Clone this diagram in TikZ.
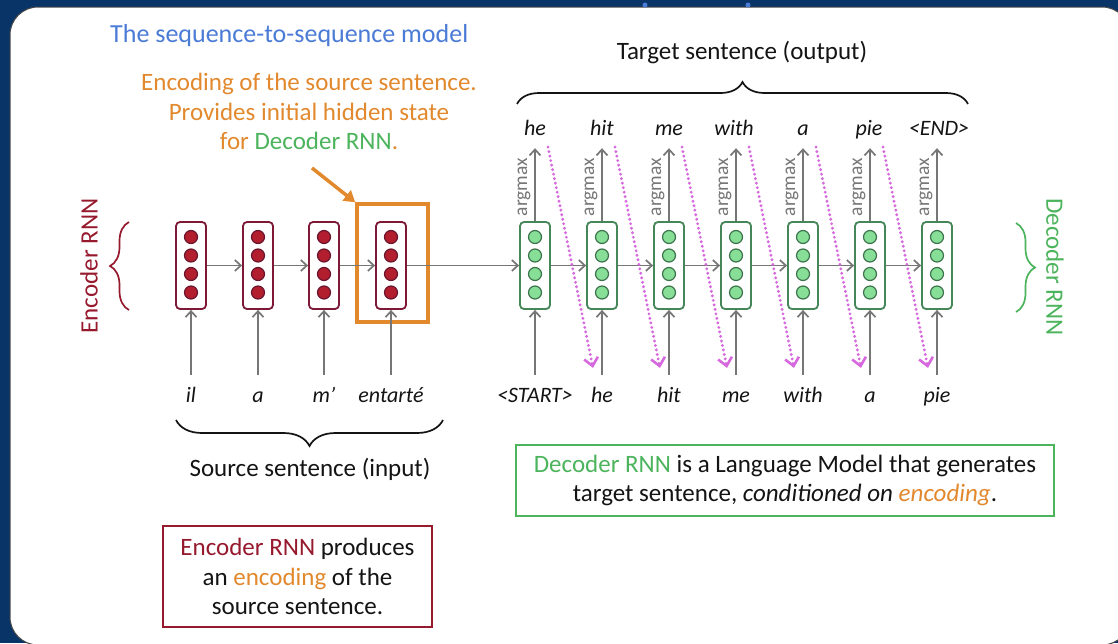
\documentclass[tikz,border=0pt]{standalone}
\usepackage{fontspec}
\setmainfont{Carlito}
\usetikzlibrary{arrows.meta,decorations.pathreplacing,calc}

\definecolor{navy}{RGB}{8,52,104}
\definecolor{titleblue}{RGB}{74,123,214}
\definecolor{encorange}{RGB}{226,137,46}
\definecolor{decgreen}{RGB}{76,180,92}
\definecolor{encred}{RGB}{150,25,45}
\definecolor{cellred}{RGB}{125,25,55}
\definecolor{dotred}{RGB}{178,30,45}
\definecolor{cellgreen}{RGB}{70,135,90}
\definecolor{dotgreen}{RGB}{135,222,150}
\definecolor{flowgray}{RGB}{118,118,118}
\definecolor{feedpink}{RGB}{215,105,222}
\definecolor{ink}{RGB}{20,20,20}

\begin{document}
\begin{tikzpicture}[x=1pt,y=-1pt,
  encell/.style={draw=cellred, line width=1.8pt, rounded corners=4pt, fill=white,
    minimum width=30pt, minimum height=87pt, inner sep=0pt},
  decell/.style={encell, draw=cellgreen},
  endot/.style={circle, draw=cellred!85!black, fill=dotred, line width=1.2pt,
    minimum size=13pt, inner sep=0pt},
  dedot/.style={endot, draw=cellgreen!85!black, fill=dotgreen},
  flow/.style={draw=flowgray, line width=1.8pt,
    -{Straight Barb[length=6pt,width=11pt,line width=1.7pt]}},
  feed/.style={draw=feedpink, line width=3.2pt, line cap=round,
    dash pattern=on 0pt off 4.6pt,
    -{Straight Barb[length=8pt,width=14pt,line width=2.6pt]}},
  word/.style={font=\fontsize{22}{26}\selectfont\itshape, text=ink, inner sep=0pt,
    text height=15pt, text depth=5pt, anchor=base},
  label/.style={font=\fontsize{25}{29.5}\selectfont, text=ink, inner sep=0pt},
  argtxt/.style={rotate=90, font=\fontsize{19.5}{22}\selectfont, text=flowgray, inner sep=0pt},
  bracket/.style={line width=1.7pt, decorate},
]
\useasboundingbox (0,0) rectangle (1118,643);

% slide frame
\fill[navy] (0,0) rectangle (1118,643);
\filldraw[fill=white, draw=gray!55!black, line width=1pt, rounded corners=28pt]
  (10,7) rectangle (1130,645);
\fill[titleblue] (645,5) circle (2.5);
\fill[titleblue] (748,5) circle (2.5);

% title
\node[anchor=base west, text=titleblue, font=\fontsize{26}{30}\selectfont, inner sep=0pt]
  (title) at (110,42) {The sequence-to-sequence model};

% encoding note
\node[label, text=encorange, anchor=base] (note1) at (309,90) {Encoding of the source sentence.};
\node[label, text=encorange, anchor=base] (note2) at (309,120) {Provides initial hidden state};
\node[label, text=encorange, anchor=base] (note3) at (309,149) {for \textcolor{decgreen}{Decoder RNN}.};
\coordinate (notearrow) at (312,168);

% encoder cells
\foreach \x [count=\i] in {191,258,324,391} {
  \node[encell] (e\i) at (\x,265.5) {};
  \foreach \y [count=\k] in {237,255.5,274,292.5}
    \node[endot] (e\i d\k) at (\x,\y) {};
}
% decoder cells
\foreach \x [count=\i] in {535,602,669,736,803,870,937} {
  \node[decell] (d\i) at (\x,265.5) {};
  \foreach \y [count=\k] in {237,255.5,274,292.5}
    \node[dedot] (d\i d\k) at (\x,\y) {};
}

% highlighted final encoder state
\node[draw=encorange, line width=3.5pt, minimum width=71pt, minimum height=118pt, inner sep=0pt]
  (encbox) at (392.5,263) {};
\draw[draw=encorange, line width=3.5pt, -{Triangle[length=11pt,width=13pt]}]
  (notearrow) -- (encbox.north west);

% recurrent connections
\foreach \i/\j in {1/2,2/3,3/4} \draw[flow] (e\i.east) -- (e\j.west);
\draw[flow] (e4.east) -- (d1.west);
\foreach \i/\j in {1/2,2/3,3/4,4/5,5/6,6/7} \draw[flow] (d\i.east) -- (d\j.west);

% source words
\foreach \w/\x [count=\i] in {il/191,a/258,m’/324,entarté/391} {
  \node[word] (s\i) at (\x,402) {\w};
  \draw[flow, shorten <=12pt] (s\i.north) -- (e\i.south);
}
% decoder input words
\foreach \w/\x [count=\i] in {<START>/535,he/602,hit/669,me/736,with/803,a/870,pie/937} {
  \node[word] (i\i) at (\x,402) {\w};
  \draw[flow, shorten <=12pt] (i\i.north) -- (d\i.south);
}
% decoder output words
\foreach \w/\x [count=\i] in {he/535,hit/602,me/669,with/734,a/803,pie/869,<END>/939} {
  \node[word] (o\i) at (\x,135) {\w};
  \node[argtxt] (am\i) at ($(d\i.north)+(-11,-34)$) {argmax};
  \draw[flow, shorten >=8pt] (d\i.north) -- (d\i.north |- o\i.south);
}
% feeding each prediction back in
\foreach \i [evaluate=\i as \j using int(\i+1)] in {1,...,6} {
  \coordinate (fs\i) at ($(d\i.north)+(13,-74)$);
  \coordinate (fe\i) at ($(d\j.south)+(-9,58)$);
  \draw[feed] (fs\i) -- (fe\i);
}

% braces and side labels
\draw[bracket, encred, decoration={brace, amplitude=19pt}] (129,310) -- (129,222);
\node[rotate=90, font=\fontsize{25}{30}\selectfont, text=encred, inner sep=0pt]
  (enclabel) at (89,266) {Encoder RNN};
\draw[bracket, decgreen, decoration={brace, amplitude=19pt}] (1016,223) -- (1016,312);
\node[rotate=-90, font=\fontsize{25}{30}\selectfont, text=decgreen, inner sep=0pt]
  (declabel) at (1055,267) {Decoder RNN};
\draw[bracket, ink, decoration={brace, amplitude=22pt}] (517,104) -- (968,104);
\node[label, anchor=base] (target) at (742,59) {Target sentence (output)};
\draw[bracket, ink, decoration={brace, amplitude=26pt}] (443,420) -- (176,420);
\node[label, anchor=base] (source) at (310,476) {Source sentence (input)};

% explanation boxes
\node[draw=encred, line width=1.8pt, minimum width=269pt, minimum height=101pt,
  label, align=center, inner sep=0pt] (encnote) at (297.5,576.5)
  {\textcolor{encred}{Encoder RNN} produces\\ an \textcolor{encorange}{encoding} of the\\ source sentence.};
\node[draw=decgreen, line width=1.8pt, minimum width=538pt, minimum height=71pt,
  label, align=center, inner sep=0pt] (decnote) at (785,480.5)
  {\textcolor{decgreen}{Decoder RNN} is a Language Model that generates\\
   target sentence, \textit{conditioned on \textcolor{encorange}{encoding}}.};
\end{tikzpicture}
\end{document}
